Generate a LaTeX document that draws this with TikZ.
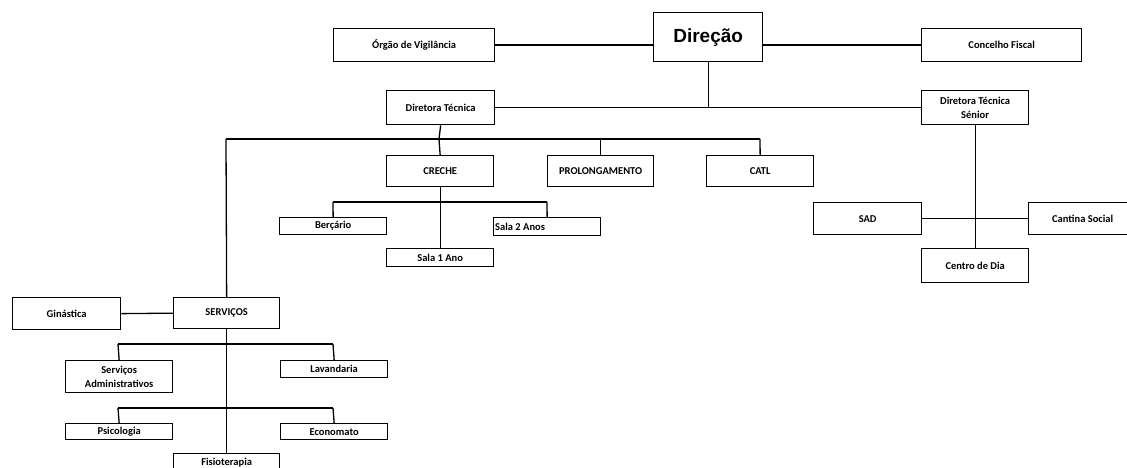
\documentclass[tikz,border=0pt]{standalone}
\usepackage{fontspec}
\setmainfont{Carlito}
\newfontfamily\headfont{Liberation Sans}
\tikzset{
  box/.style={draw=black, line width=1.3pt, inner sep=1pt, align=center, anchor=north west, font=\bfseries\fontsize{10.5}{14}\selectfont},
  conn/.style={draw=black, line width=1.3pt},
}
\newcommand{\bx}[6]{\node[box, minimum width=#4pt, minimum height=#5pt] (#1) at (#2,#3) {#6};}
\begin{document}
\begin{tikzpicture}[x=1pt,y=-1pt]
\useasboundingbox (0,0) rectangle (1127,468);
\fill[white] (0,0) rectangle (1127,468);
\clip (0,0) rectangle (1127,468);
% top level
\bx{org}{333}{28}{161}{33}{Órgão de Vigilância}
\node[box, minimum width=109pt, minimum height=49pt, font=\headfont\bfseries\fontsize{19}{22}\selectfont] (dir) at (653,12) {Direção};
\bx{cf}{921}{28}{160}{33}{Concelho Fiscal}
\bx{dt}{386}{90}{108}{34}{Diretora Técnica}
\bx{dts}{921}{90}{107}{34}{Diretora Técnica\\Sénior}
% second level
\bx{creche}{386}{155}{107}{31}{CRECHE}
\bx{prol}{547}{155}{106}{31}{PROLONGAMENTO}
\bx{catl}{706}{155}{107}{31}{CATL}
\bx{berc}{279}{217}{107}{17}{Berçário}
\bx{sala2}{493}{217}{107}{18}{\makebox[104pt][l]{Sala 2 Anos}}
\bx{sala1}{386}{248}{107}{18}{Sala 1 Ano}
% servicos
\bx{serv}{173}{297}{106}{31}{SERVIÇOS}
\bx{gin}{12}{297}{108}{32}{Ginástica}
\bx{sadm}{65}{360}{107}{32}{Serviços\\Administrativos}
\bx{lav}{280}{360}{107}{17}{Lavandaria}
\bx{psi}{65}{423}{107}{16}{Psicologia}
\bx{eco}{280}{423}{107}{16}{Economato}
\bx{fis}{173}{453}{106}{18}{Fisioterapia}
% senior
\bx{sad}{813}{202}{108}{32}{SAD}
\bx{cant}{1028}{202}{108}{32}{Cantina Social}
\bx{cdd}{921}{248}{107}{34}{Centro de Dia}
% junctions
\coordinate (jdt) at (439,139);
\coordinate (jl) at (226,139);
\coordinate (jr) at (760,139);
\coordinate (jcl) at (333,202);
\coordinate (jcr) at (547,202);
\coordinate (js1l) at (118,344);
\coordinate (js1r) at (333,344);
\coordinate (js2l) at (118,408);
\coordinate (js2r) at (333,408);
% connectors
\draw[conn] (org.east) -- (org.east -| dir.west);
\draw[conn] (dir.east |- cf.west) -- (cf.west);
\draw[conn] (dir.south) -- (dir.south |- dt.east);
\draw[conn] (dt.east) -- (dts.west);
\draw[conn] (dt.south) -- (jdt);
\draw[conn] (jl) -- (jr);
\draw[conn] (jl) -- (serv.north);
\draw[conn] (jdt) -- (creche.north);
\draw[conn] (prol.north |- jdt) -- (prol.north);
\draw[conn] (jr) -- (catl.north);
\draw[conn] (creche.south) -- (sala1.north);
\draw[conn] (jcl) -- (jcr);
\draw[conn] (jcl) -- (berc.north);
\draw[conn] (jcr) -- (sala2.north);
\draw[conn] (dts.south) -- (cdd.north);
\draw[conn] (sad.east) -- (cant.west);
\draw[conn] (gin.east) -- (serv.west);
\draw[conn] (serv.south) -- (fis.north);
\draw[conn] (js1l) -- (js1r);
\draw[conn] (js1l) -- (sadm.north);
\draw[conn] (js1r) -- (lav.north);
\draw[conn] (js2l) -- (js2r);
\draw[conn] (js2l) -- (psi.north);
\draw[conn] (js2r) -- (eco.north);
\end{tikzpicture}
\end{document}
